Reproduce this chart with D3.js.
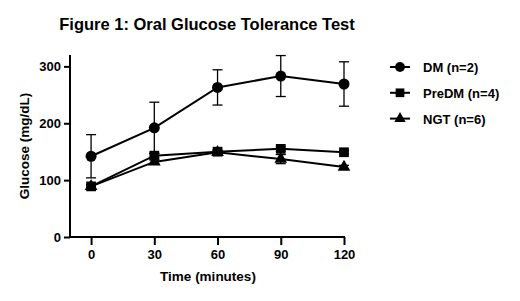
<!DOCTYPE html>
<html>
<head>
<meta charset="utf-8">
<script src="https://cdn.jsdelivr.net/npm/d3@7"></script>
<style>
  body { margin: 0; background: #fff; }
  text { font-family: "Liberation Sans", Arial, sans-serif; font-weight: bold; fill: #000; }
</style>
</head>
<body>
<div id="chart"></div>
<script>
// data
const times = [0, 30, 60, 90, 120];
const dmMean = [142, 192, 263, 283, 269];
const dmErr = [38, 45, 31, 36, 39];
const preMean = [89, 143, 150, 155, 149];
const preErr = [3, 4, 3, 4, 3];
const ngtMean = [89, 132, 149, 137, 123];
const ngtErr = [3, 4, 3, 8, 3];
const seriesNames = ["DM (n=2)", "PreDM (n=4)", "NGT (n=6)"];
const yTicks = [0, 100, 200, 300];

const width = 520, height = 301;
const margin = {top: 55, right: 175, bottom: 64, left: 70};

const svg = d3.select("#chart")
  .append("svg")
    .attr("width", width)
    .attr("height", height);

const x = d3.scaleLinear()
    .domain([-10, 120])
    .range([margin.left, 344]);
const y = d3.scaleLinear()
    .domain([0, 320])
    .range([237, margin.top]);

// title
svg.append("text")
    .attr("x", 207)
    .attr("y", 30)
    .attr("text-anchor", "middle")
    .style("font-size", "16.5px")
    .text("Figure 1: Oral Glucose Tolerance Test");

// axes
const xAxis = svg.append("g")
    .attr("transform", `translate(0,${y(0)})`)
    .call(d3.axisBottom(x).tickValues(times).tickSizeOuter(0).tickSize(8).tickPadding(5));
xAxis.select(".domain").attr("d", `M${x(-10)},0H${x(120) + 1}`);

const yAxis = svg.append("g")
    .attr("transform", `translate(${x(-10)},0)`)
    .call(d3.axisLeft(y).tickValues(yTicks).tickSizeOuter(0).tickSize(6).tickPadding(3));
yAxis.select(".domain").attr("d", `M0,${y(0) + 1}V${y(320)}`);

svg.selectAll(".domain, .tick line")
    .attr("stroke", "#000")
    .attr("stroke-width", 2);
svg.selectAll(".tick text")
    .style("font-size", "13px")
    .style("font-family", "Liberation Sans, Arial, sans-serif")
    .style("font-weight", "bold");

// axis titles
svg.append("text")
    .attr("x", 208)
    .attr("y", 281)
    .attr("text-anchor", "middle")
    .style("font-size", "13.5px")
    .text("Time (minutes)");
svg.append("text")
    .attr("transform", `translate(29,${y(160)}) rotate(-90)`)
    .attr("text-anchor", "middle")
    .style("font-size", "13.5px")
    .text("Glucose (mg/dL)");

const series = [
  {name: seriesNames[0], mean: dmMean, err: dmErr, shape: d3.symbolCircle, size: 95},
  {name: seriesNames[1], mean: preMean, err: preErr, shape: d3.symbolSquare, size: 95},
  {name: seriesNames[2], mean: ngtMean, err: ngtErr, shape: d3.symbolTriangle, size: 70}
];

const line = d3.line()
    .x((d, i) => x(times[i]))
    .y(d => y(d));

// draw back to front so DM is on top
series.slice().reverse().forEach(s => {
  const g = svg.append("g");
  const pts = times.map((t, i) => ({t: t, m: s.mean[i], e: s.err[i]}));

  // error bars
  const eb = g.selectAll(".eb").data(pts).join("g");
  eb.append("line")
      .attr("x1", d => x(d.t)).attr("x2", d => x(d.t))
      .attr("y1", d => y(d.m - d.e)).attr("y2", d => y(d.m + d.e))
      .attr("stroke", "#000").attr("stroke-width", 1.3);
  eb.append("line")
      .attr("x1", d => x(d.t) - 5).attr("x2", d => x(d.t) + 5)
      .attr("y1", d => y(d.m + d.e)).attr("y2", d => y(d.m + d.e))
      .attr("stroke", "#000").attr("stroke-width", 1.3);
  eb.append("line")
      .attr("x1", d => x(d.t) - 5).attr("x2", d => x(d.t) + 5)
      .attr("y1", d => y(d.m - d.e)).attr("y2", d => y(d.m - d.e))
      .attr("stroke", "#000").attr("stroke-width", 1.3);

  g.append("path")
      .attr("d", line(s.mean))
      .attr("fill", "none")
      .attr("stroke", "#000")
      .attr("stroke-width", 2);

  g.selectAll(".pt").data(pts).join("path")
      .attr("transform", d => `translate(${x(d.t)},${y(d.m)})`)
      .attr("d", d3.symbol().type(s.shape).size(s.size))
      .attr("fill", "#000");
});

// legend
const legend = svg.append("g").attr("transform", "translate(390,67)");
series.forEach((s, i) => {
  const row = legend.append("g").attr("transform", `translate(0,${i * 25.8})`);
  row.append("line")
      .attr("x1", 0).attr("x2", 20)
      .attr("stroke", "#000").attr("stroke-width", 2);
  row.append("path")
      .attr("transform", "translate(10,0)")
      .attr("d", d3.symbol().type(s.shape).size(s.size * 0.8))
      .attr("fill", "#000");
  row.append("text")
      .attr("x", 33)
      .attr("y", 5)
      .style("font-size", "13px")
      .text(s.name);
});
</script>
</body>
</html>
